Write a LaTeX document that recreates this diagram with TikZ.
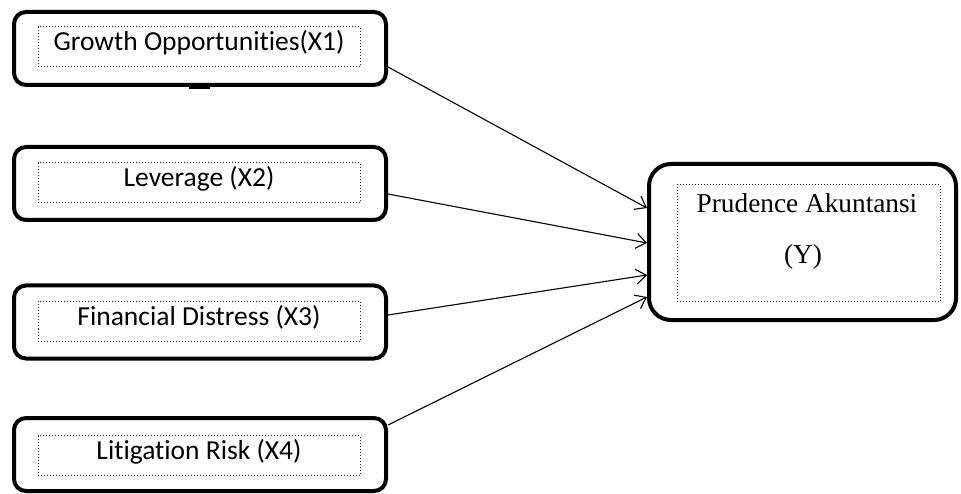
\documentclass[tikz,border=0pt]{standalone}
\usepackage{fontspec}
\setmainfont{Liberation Serif}
\newfontfamily\calib[Ligatures=NoCommon]{Carlito}
\usetikzlibrary{arrows.meta}
\tikzset{
  varbox/.style={draw=black, line width=4pt, rounded corners=12pt,
    minimum width=372pt, minimum height=73pt, inner sep=0pt},
  labelbox/.style={draw=black!85, dotted, line width=1pt,
    minimum width=322pt, minimum height=40pt, inner sep=0pt,
    text height=20pt, text depth=13pt,
    font=\calib\fontsize{27.5}{32}\selectfont},
  outbox/.style={draw=black, line width=4pt, rounded corners=22pt,
    minimum width=307pt, minimum height=156pt, inner sep=0pt},
  outlabel/.style={draw=black!85, dotted, line width=1pt,
    minimum width=263pt, minimum height=117pt, inner sep=0pt},
  ytext/.style={font=\fontsize{27.3}{32}\selectfont, inner sep=0pt},
  link/.style={line width=1.1pt, -{Straight Barb[length=10pt,width=15pt,line width=1.1pt]}}
}
\begin{document}
\begin{tikzpicture}[x=1pt,y=-1pt]
  \useasboundingbox (0,0) rectangle (961,494);

  % independent variables
  \node[varbox] (b1) at (200,48.5) {};
  \node[labelbox] (l1) at (199,47) {Growth Opportunities(X1)};
  \node[varbox] (b2) at (200,183.5) {};
  \node[labelbox] (l2) at (199,183) {Leverage (X2)};
  \node[varbox] (b3) at (200,322) {};
  \node[labelbox] (l3) at (199,321.5) {Financial Distress (X3)};
  \node[varbox] (b4) at (200,454.5) {};
  \node[labelbox] (l4) at (199,455.5) {Litigation Risk (X4)};

  % small mark under the first box
  \fill[black] (189,86) rectangle (210,89);

  % dependent variable
  \node[outbox] (y) at (802.5,242) {};
  \node[outlabel] (yl) at (808.5,243.5) {};
  \node[ytext] (yt1) at (807,203) {Prudence Akuntansi};
  \node[ytext] (yt2) at (803,257) {(Y)};

  % influence arrows
  \draw[link] ([yshift=-18.5pt]b1.east) -- ([yshift=34pt]y.west);
  \draw[link] ([yshift=-10.5pt]b2.east) -- ([yshift=-1pt]y.west);
  \draw[link] ([yshift=7pt]b3.east) -- ([yshift=-33pt]y.west);
  \draw[link] ([yshift=29.5pt]b4.east) -- ([yshift=-55pt]y.west);
\end{tikzpicture}
\end{document}
